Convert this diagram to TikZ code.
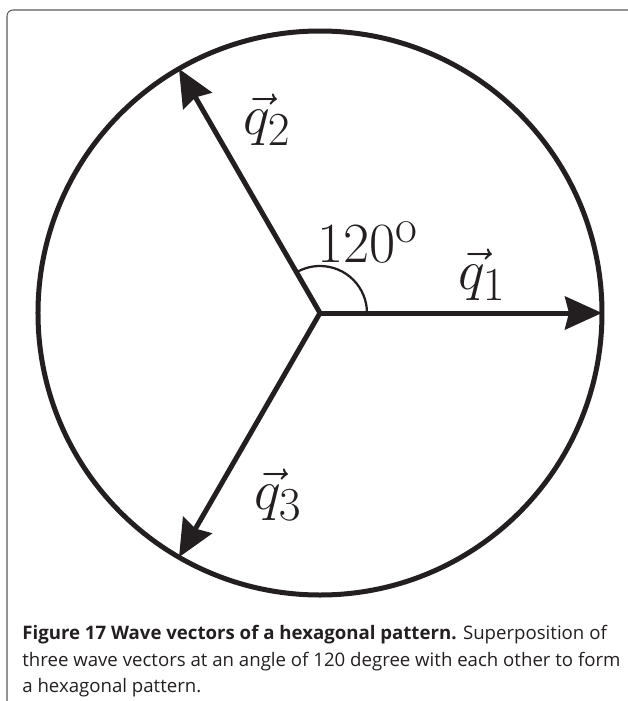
\documentclass[tikz,border=0pt]{standalone}
\usepackage{amsmath}
\usepackage{fontspec}
\usepackage{xcolor}
\usepackage{tikz}
\usetikzlibrary{arrows.meta}
\newfontfamily\capfont{Open Sans}
\definecolor{framegray}{RGB}{90, 90, 90}
\definecolor{inkblack}{RGB}{35, 31, 32}

\begin{document}
\begin{tikzpicture}[
  wave/.style={draw=inkblack, line width=0.1cm,
               -{Stealth[length=0.74cm, width=0.66cm, inset=0.08cm]}},
  ring/.style={draw=inkblack, line width=0.1cm},
  anglearc/.style={draw=inkblack, line width=0.045cm},
  veclabel/.style={inner sep=0pt, text=inkblack, font=\Huge, scale=1.3},
  caption/.style={anchor=north west, align=left, inner sep=0pt, text=inkblack,
                  font=\capfont\fontsize{10.6}{15.1}\selectfont}
]
\useasboundingbox (-6.4,-7.76) rectangle (6.16,6.26);

% frame of the figure
\draw[framegray, line width=0.6pt, rounded corners=0.12cm]
  (-6.26,-7.9) -- (-6.26,6.06) -- (6.3,6.06);

% circle and the three wave vectors
\coordinate (o) at (0,0);
\coordinate (t1) at (0:5.64);
\coordinate (t2) at (120:5.64);
\coordinate (t3) at (240:5.64);
\draw[ring] (o) circle[radius=5.64];
\draw[anglearc] (0.94,0) arc[start angle=0, end angle=120, radius=0.94];
\draw[wave] (o) -- (t1);
\draw[wave] (o) -- (t2);
\draw[wave] (o) -- (t3);

% labels
\node[veclabel] (ang) at (0.96,1.42) {$120^{\mathrm{o}}$};
\node[veclabel] (q1) at (3.24,0.76) {$\vec{q}_1$};
\node[veclabel] (q2) at (-1.06,3.86) {$\vec{q}_2$};
\node[veclabel] (q3) at (-0.84,-3.64) {$\vec{q}_3$};

\node[caption] (cap) at (-5.96,-6.24)
  {\textbf{Figure 17 Wave vectors of a hexagonal pattern.} Superposition of\\
   three wave vectors at an angle of 120 degree with each other to form\\
   a hexagonal pattern.};
\end{tikzpicture}
\end{document}
